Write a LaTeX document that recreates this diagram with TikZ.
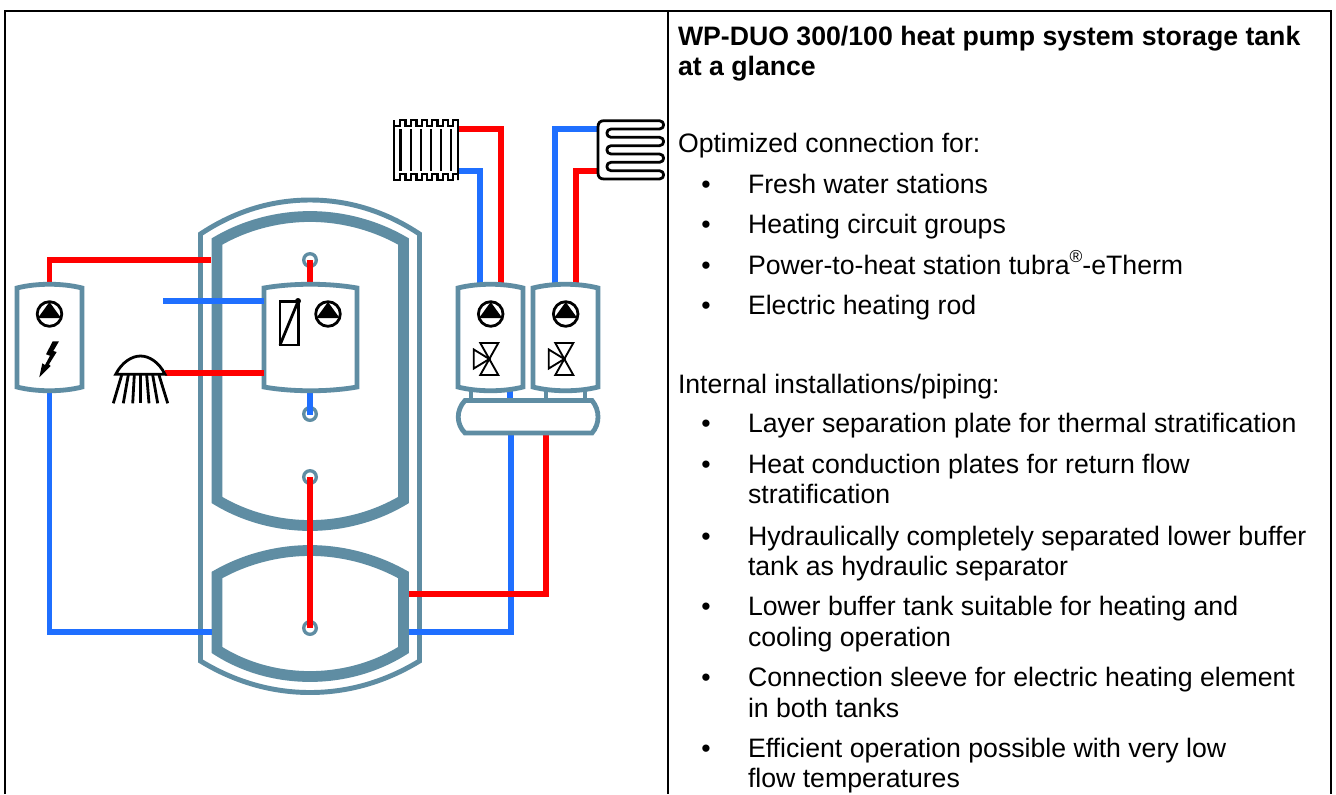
\documentclass[tikz,border=0pt]{standalone}
\usepackage{fontspec}
\setmainfont{Liberation Sans}
\usetikzlibrary{calc}
\definecolor{wallc}{HTML}{5F8DA3}
\definecolor{pipered}{HTML}{FF0000}
\definecolor{pipeblue}{HTML}{1F6FFF}
\tikzset{
  wallthick/.style={draw=wallc,line width=8.1pt,miter limit=10},
  wallthin/.style={draw=wallc,line width=3.7pt,miter limit=10},
  wallmid/.style={draw=wallc,line width=3.6pt,miter limit=10},
  hot/.style={draw=pipered,line width=4.1pt},
  cold/.style={draw=pipeblue,line width=4.1pt},
  ring/.style={draw=wallc,line width=2.5pt,fill=white},
  blk/.style={draw=black,line width=2.1pt},
  blkthin/.style={draw=black,line width=1.4pt},
  frameline/.style={draw=black,line width=1.5pt},
  para/.style={anchor=base west,inner sep=0pt,outer sep=0pt,font=\fontsize{20pt}{24pt}\selectfont},
  parab/.style={anchor=base west,inner sep=0pt,outer sep=0pt,font=\fontsize{20pt}{24pt}\selectfont\bfseries},
  pics/barrel/.style={code={
    \draw[wallmid,fill=white]
      (-#1,-49) .. controls (-#1*0.4,-54) and (#1*0.4,-54) .. (#1,-49)
      -- (#1,50) .. controls (#1*0.4,55) and (-#1*0.4,55) .. (-#1,50) -- cycle;
  }},
  pics/pumpsym/.style={code={
    \draw[blk,fill=white] (0,0) circle (12.3);
    \fill[black] (0,-12) -- (11.6,4) -- (-11.6,4) -- cycle;
  }},
  pics/valvesym/.style={code={
    \draw[blkthin,line join=miter] (-9,-16) -- (9,-16) -- (-9,16) -- (9,16) -- cycle;
    \draw[blkthin,line join=miter] (0,0) -- (-15.5,-9.5) -- (-15.5,9.5) -- cycle;
    \fill[black] (0,0) circle (1.8);
  }},
}
\begin{document}
\begin{tikzpicture}[x=0.75pt,y=-0.75pt]
\useasboundingbox (0,0) rectangle (1336,794);
\fill[white] (0,0) rectangle (1336,794);

% frame
\coordinate (ftl) at (5.3,11);
\coordinate (ftm) at (667.5,11);
\coordinate (ftr) at (1330.7,11);
\coordinate (fbl) at (5.3,794);
\coordinate (fbm) at (667.5,794);
\coordinate (fbr) at (1330.7,794);
\draw[frameline] (fbl) -- (ftl) -- (ftr) -- (fbr);
\draw[frameline] (ftm) -- (fbm);

% anchors of the pipes
\coordinate (tankLred) at (211,260);
\coordinate (tankLblue) at (212,632);
\coordinate (tankRred) at (409,594);
\coordinate (tankRblue) at (409,632);
\coordinate (ringA) at (310,260);
\coordinate (ringB) at (310,414);
\coordinate (ringC) at (310,477);
\coordinate (ringD) at (310,628);
\coordinate (coldfree) at (163,301);
\coordinate (midcoldport) at (264,301);
\coordinate (midhotport) at (264,373);
\coordinate (showerport) at (165,373);
\coordinate (radhot) at (459,129);
\coordinate (radcold) at (459,171);
\coordinate (coilcold) at (598,129);
\coordinate (coilhot) at (598,171);
\coordinate (b1cold) at (480,284);
\coordinate (b1hot) at (501,284);
\coordinate (b2cold) at (555,284);
\coordinate (b2hot) at (576,284);
\coordinate (mancold) at (511,434);
\coordinate (manhot) at (546,434);
\coordinate (leftboxtop) at (49.5,284);
\coordinate (leftboxbot) at (49.5,391);
\coordinate (midboxtop) at (310,284);
\coordinate (midboxbot) at (310,391);

% tank outer jacket
\draw[wallthin] (200.5,234)
  .. controls (235,211) and (272,200) .. (310,200)
  .. controls (348,200) and (385,211) .. (419.5,234)
  -- (419.5,661)
  .. controls (385,682) and (348,692.5) .. (310,692.5)
  .. controls (272,692.5) and (235,682) .. (200.5,661) -- cycle;
% upper tank
\draw[wallthick] (217,241.5)
  .. controls (245,225) and (278,216.5) .. (310,216.5)
  .. controls (342,216.5) and (375,225) .. (403.5,241.5)
  -- (403.5,500)
  .. controls (375,517) and (342,525.5) .. (310,525.5)
  .. controls (278,525.5) and (245,517) .. (217,500) -- cycle;
% lower tank
\draw[wallthick] (217,575)
  .. controls (245,559) and (278,550.5) .. (310,550.5)
  .. controls (342,550.5) and (375,559) .. (403.5,575)
  -- (403.5,650)
  .. controls (375,668) and (342,676.5) .. (310,676.5)
  .. controls (278,676.5) and (245,668) .. (217,650) -- cycle;

% pipes
\draw[hot] (leftboxtop) |- (tankLred);
\draw[cold] (leftboxbot) |- (tankLblue);
\draw[cold] (tankRblue) -| (mancold);
\draw[hot] (tankRred) -| (manhot);
\draw[hot] (radhot) -| (b1hot);
\draw[cold] (radcold) -| (b1cold);
\draw[cold] (coilcold) -| (b2cold);
\draw[hot] (coilhot) -| (b2hot);

% rings
\foreach \n in {ringA,ringB,ringC,ringD} \draw[ring] (\n) circle (6.3);
\draw[hot] (ringA) -- (midboxtop);
\draw[cold] (midboxbot) -- ($(ringB)+(0,1)$);
\draw[hot] (ringC) -- (ringD);

% barrels and manifold
\draw[wallmid] (471,390) -- (471,400);
\draw[wallmid] (546,390) -- (546,400);
\draw[wallmid] (585,390) -- (585,400);
\draw[cold] (510,390) -- (510,400);
\pic at (49.5,337) {barrel=32.5};
\pic at (310.5,337) {barrel=46.5};
\pic at (490.5,337) {barrel=32.5};
\pic at (565.5,337) {barrel=32.5};
\draw[wallmid,fill=white] (465,400.5) -- (592,400.5)
  .. controls (600,410) and (600,424) .. (592,433)
  -- (465,433) .. controls (456,424) and (456,410) .. (465,400.5) -- cycle;
\draw[cold] (coldfree) -- (midcoldport);
\draw[hot] (showerport) -- (midhotport);

% symbols
\pic at (49.5,314) {pumpsym};
\pic at (328,314) {pumpsym};
\pic at (490.7,314) {pumpsym};
\pic at (565.7,314) {pumpsym};
\pic at (489.3,359) {valvesym};
\pic at (564.3,359) {valvesym};

% lightning
\fill[black] (52.7,341.3) -- (59,341.3) -- (53.3,351) -- (56.7,352) -- (49,364.3)
  -- (50.7,366) -- (39.3,377.3) -- (42.3,363.3) -- (45,365) -- (50,355.7) -- (46,354.3) -- cycle;

% heating rod
\draw[blk,line join=miter] (280,301.7) rectangle (298.3,345);
\draw[blk] (280,345) -- (298,301.5);
\fill[black] (298,301) circle (3);

% shower
\draw[blk] (115.7,374.3) .. controls (122,362) and (132,356) .. (140.5,356)
  .. controls (149,356) and (159,362) .. (165,374.3) -- cycle;
\foreach \a/\b in {121.7/113.3,128.3/123.3,134.3/132.7,140.5/140.5,146.7/149,152.7/157.7,159/167.7}
  \draw[blk] (\a,375) -- (\b,403.3);

% radiator
\draw[blk,line join=miter] (394,120) -- (394,180) -- (400,180) -- (400,174) -- (405.5,174) -- (405.5,180) -- (411,180) -- (411,174)
  -- (416.5,174) -- (416.5,180) -- (422,180) -- (422,174) -- (427,174) -- (427,180) -- (432,180) -- (432,174)
  -- (437.5,174) -- (437.5,180) -- (443,180) -- (443,174) -- (448,174) -- (448,180) -- (453,180) -- (453,174) -- (458,174) -- (458,180)
  -- (458,120) -- (453,120) -- (453,126) -- (448,126) -- (448,120) -- (443,120) -- (443,126) -- (437.5,126) -- (437.5,120)
  -- (432,120) -- (432,126) -- (427,126) -- (427,120) -- (422,120) -- (422,126) -- (416.5,126) -- (416.5,120)
  -- (411,120) -- (411,126) -- (405.5,126) -- (405.5,120) -- (400,120) -- (400,126) -- (394,126);
\foreach \x in {400.7,411,421,431,441,451} \draw[blk] (\x,129) -- (\x,171);

% floor coil
\draw[blk,line join=round] (604,120.7) -- (659.5,120.7) .. controls (665,120.7) and (665,129) .. (659.5,129)
  -- (611,129) .. controls (605.5,129) and (605.5,137.3) .. (611,137.3)
  -- (659.5,137.3) .. controls (665,137.3) and (665,145.7) .. (659.5,145.7)
  -- (611,145.7) .. controls (605.5,145.7) and (605.5,154) .. (611,154)
  -- (659.5,154) .. controls (665,154) and (665,162.3) .. (659.5,162.3)
  -- (611,162.3) .. controls (605.5,162.3) and (605.5,170.7) .. (611,170.7)
  -- (659.5,170.7) .. controls (665,170.7) and (665,179) .. (659.5,179)
  -- (604,179) .. controls (600,179) and (598,177) .. (598,173)
  -- (598,127) .. controls (598,123) and (600,120.7) .. (604,120.7) -- cycle;

% text
\node[parab] (t1) at (678,45) {WP-DUO 300/100 heat pump system storage tank};
\node[parab] (t2) at (678,75) {at a glance};
\node[para] (t3) at (678,152) {Optimized connection for:};
\node[para] (t4) at (748,193) {Fresh water stations};
\node[para] (t5) at (748,233) {Heating circuit groups};
\node[para] (t6) at (748,274) {Power-to-heat station tubra\raisebox{0.42em}{\fontsize{13pt}{13pt}\selectfont ®}-eTherm};
\node[para] (t7) at (748,314) {Electric heating rod};
\node[para] (t8) at (678,393) {Internal installations/piping:};
\node[para] (t9) at (748,432) {Layer separation plate for thermal stratification};
\node[para] (t10) at (748,473) {Heat conduction plates for return flow};
\node[para] (t11) at (748,503) {stratification};
\node[para] (t12) at (748,545) {Hydraulically completely separated lower buffer};
\node[para] (t13) at (748,575) {tank as hydraulic separator};
\node[para] (t14) at (748,615) {Lower buffer tank suitable for heating and};
\node[para] (t15) at (748,646) {cooling operation};
\node[para] (t16) at (748,686) {Connection sleeve for electric heating element};
\node[para] (t17) at (748,717) {in both tanks};
\node[para] (t18) at (748,757) {Efficient operation possible with very low};
\node[para] (t19) at (748,787) {flow temperatures};
\foreach \n/\y in {a/193,b/233,c/274,d/314,e/432,f/473,g/545,h/615,i/686,j/757}
  \node[para] (bul\n) at (701.3,\y) {•};
\end{tikzpicture}
\end{document}
